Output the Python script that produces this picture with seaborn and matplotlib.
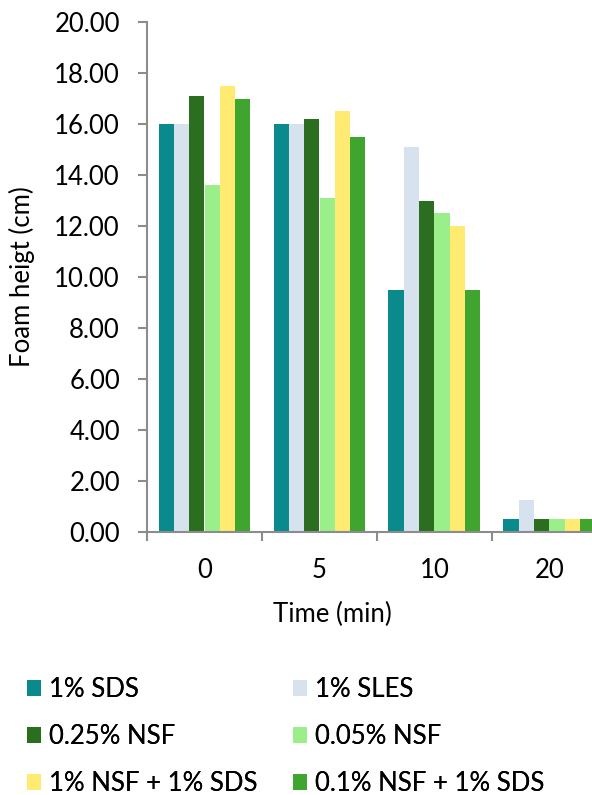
import matplotlib
matplotlib.use("Agg")
import matplotlib.pyplot as plt
import numpy as np
import pandas as pd
import seaborn as sns
from matplotlib.patches import Patch

# ── data ───────────────────────────────────────────────────────────────────
times = ["0", "5", "10", "20"]
series = ["1% SDS", "1% SLES", "0.25% NSF", "0.05% NSF",
          "1% NSF + 1% SDS", "0.1% NSF + 1% SDS"]
sds_1 = [16.0, 16.0, 9.5, 0.5]
sles_1 = [16.0, 16.0, 15.1, 1.25]
nsf_025 = [17.1, 16.2, 13.0, 0.5]
nsf_005 = [13.6, 13.1, 12.5, 0.5]
nsf1_sds1 = [17.5, 16.5, 12.0, 0.5]
nsf01_sds1 = [17.0, 15.5, 9.5, 0.5]
colors = ["#0A8A8C", "#D6E2EE", "#2C6E1F", "#9BEF8B", "#FFEA72", "#3FA52E"]
yticks = np.arange(0, 20.01, 2)

values = [sds_1, sles_1, nsf_025, nsf_005, nsf1_sds1, nsf01_sds1]
df = pd.DataFrame([
    {"time": t, "series": s, "height": v}
    for s, vals in zip(series, values)
    for t, v in zip(times, vals)
])

sns.set_theme(style="white")
plt.rcParams["font.family"] = ["Lato", "DejaVu Sans"]
for key in ["text.color", "axes.labelcolor", "xtick.labelcolor", "ytick.labelcolor"]:
    plt.rcParams[key] = "black"
FS = 18.5
GREY = "#8C8C8C"

fig = plt.figure(figsize=(5.92, 7.95), dpi=100)
# plot area runs a little past the right edge, as in the original
ax = fig.add_axes([147 / 592, 1 - 532 / 795, 460 / 592, 510 / 795])

sns.barplot(data=df, x="time", y="height", hue="series", order=times,
            hue_order=series, palette=colors, width=0.8, saturation=1,
            edgecolor="none", linewidth=0, ax=ax, legend=False)

ax.set_xlim(-0.5, 3.5)
ax.set_ylim(0, 20)
ax.set_yticks(yticks)
ax.set_yticklabels([f"{v:.2f}" for v in yticks], fontsize=FS)
ax.set_xticks(range(len(times)))
ax.set_xticklabels(times, fontsize=FS)
ax.set_xticks(np.arange(-0.5, 3.6, 1), minor=True)
ax.tick_params(axis="x", which="major", length=0, pad=19)
ax.tick_params(axis="x", which="minor", length=6.5, width=1.5, color=GREY,
               direction="out", bottom=True)
ax.tick_params(axis="y", length=6.5, width=1.5, color=GREY,
               direction="out", left=True, pad=13)

for side in ["top", "right"]:
    ax.spines[side].set_visible(False)
for side in ["left", "bottom"]:
    ax.spines[side].set_color(GREY)
    ax.spines[side].set_linewidth(1.5)

ax.set_xlabel("Time (min)", fontsize=FS)
ax.xaxis.set_label_coords(0.404, -0.137)
ax.set_ylabel("Foam heigt (cm)", fontsize=FS)
ax.yaxis.set_label_coords(-0.243, 0.5)

# legend in two columns, filled row by row
handles = [Patch(facecolor=c, edgecolor="none") for c in colors]
for col, x0 in enumerate([27 / 592, 293 / 592]):
    idx = [col, col + 2, col + 4]
    leg = fig.legend([handles[i] for i in idx], [series[i] for i in idx],
                     loc="upper left", bbox_to_anchor=(x0, 1 - 677 / 795),
                     ncol=1, frameon=False, fontsize=FS, borderpad=0,
                     borderaxespad=0, handlelength=0.55, handleheight=0.55,
                     handletextpad=0.3, labelspacing=0.86)
    fig.add_artist(leg)

fig.savefig("out.png", dpi=100)
plt.close(fig)
